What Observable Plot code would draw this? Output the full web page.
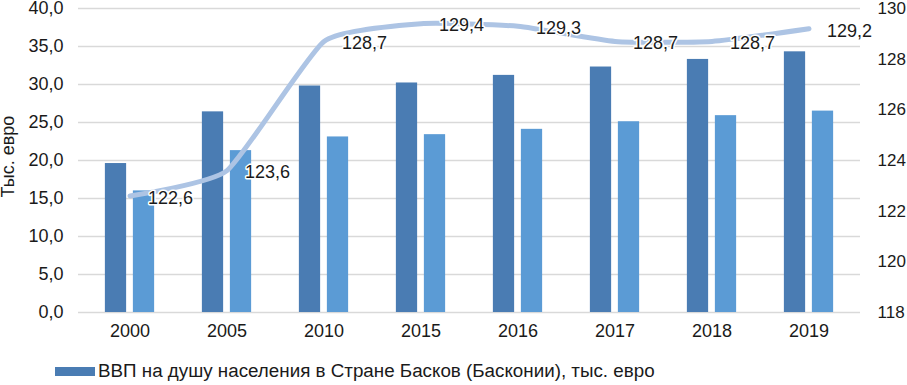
<!DOCTYPE html>
<html>
<head>
<meta charset="utf-8">
<script src="https://cdn.jsdelivr.net/npm/d3@7"></script>
<script src="https://cdn.jsdelivr.net/npm/@observablehq/plot@0.6"></script>
<style>
  html, body { margin: 0; padding: 0; background: #fff; }
  body { width: 907px; height: 385px; overflow: hidden; font-family: "Liberation Sans", Arial, sans-serif; }
  #chart svg { overflow: visible; }
  #legend { position: absolute; left: 55px; top: 360px; font-size: 18.8px; color: #1a1a1a; display: flex; align-items: center; white-space: nowrap; }
  #legend .sw { width: 40px; height: 9px; background: #4a7cb3; margin-right: 3px; }
</style>
</head>
<body>
<div id="chart"></div>
<div id="legend"><span class="sw"></span><span>ВВП на душу населения в Стране Басков (Басконии), тыс. евро</span></div>
<script>
const years = ["2000", "2005", "2010", "2015", "2016", "2017", "2018", "2019"];
const gdpBasque = [19.6, 26.4, 29.8, 30.2, 31.2, 32.3, 33.3, 34.3];
const gdpSpain = [16.0, 21.3, 23.1, 23.4, 24.1, 25.1, 25.9, 26.5];
const ratio = [122.6, 123.6, 128.7, 129.4, 129.3, 128.7, 128.7, 129.2];
const leftTicks = [0, 5, 10, 15, 20, 25, 30, 35, 40];
const rightTicks = [118, 120, 122, 124, 126, 128, 130];

// right axis (118..130) mapped onto left scale (0..40)
const rMin = 118, rMax = 130, lMax = 40;
const toLeft = v => (v - rMin) * lMax / (rMax - rMin);
const toRight = v => rMin + v * (rMax - rMin) / lMax;
const fmt1 = d => d.toFixed(1).replace(".", ",");

const bars1 = years.map((y, i) => ({year: y, value: gdpBasque[i]}));
const bars2 = years.map((y, i) => ({year: y, value: gdpSpain[i]}));
const line = years.map((y, i) => ({year: y, value: ratio[i], yv: toLeft(ratio[i])}));

const W = 907, H = 350, mL = 78, mR = 47, mT = 8, mB = 38;
const band = (W - mL - mR) / years.length;
const barW = 22, gap = 6;
const innerEdge = band / 2 - gap / 2;
const outerEdge = band / 2 - gap / 2 - barW;

const chart = Plot.plot({
  width: W,
  height: H,
  marginLeft: mL,
  marginRight: mR,
  marginTop: mT,
  marginBottom: mB,
  style: {fontFamily: "Liberation Sans, Arial, sans-serif", fontSize: "18px", color: "#1a1a1a", background: "#fff", overflow: "visible"},
  x: {domain: years, padding: 0},
  y: {domain: [0, 40]},
  marks: [
    Plot.gridY(leftTicks, {stroke: "#d9d9d9", strokeOpacity: 1, strokeWidth: 1.5}),
    Plot.barY(bars1, {x: "year", y: "value", fill: "#4a7cb3", insetLeft: outerEdge, insetRight: innerEdge + gap}),
    Plot.barY(bars2, {x: "year", y: "value", fill: "#5b9bd5", insetLeft: innerEdge + gap, insetRight: outerEdge}),
    Plot.line(line, {x: "year", y: "yv", stroke: "#adc4e4", strokeWidth: 5, curve: "cardinal", tension: 0.5}),
    Plot.text(line, {x: "year", y: "yv", text: d => fmt1(d.value), textAnchor: "start", dx: 18, dy: 2, fontSize: 18, fill: "#1a1a1a", stroke: "white", strokeWidth: 3, paintOrder: "stroke"}),
    Plot.axisY(leftTicks, {anchor: "left", tickSize: 0, tickPadding: 15, tickFormat: fmt1, fontSize: 18, label: null}),
    Plot.axisY(rightTicks.map(toLeft), {anchor: "right", tickSize: 0, tickPadding: 17, tickFormat: d => String(Math.round(toRight(d))), fontSize: 17, textAnchor: "start", label: null}),
    Plot.axisX({tickSize: 0, tickPadding: 12, fontSize: 18, label: null}),
    Plot.text(["Тыс. евро"], {frameAnchor: "left", textAnchor: "middle", rotate: -90, dx: -70, dy: -4, fontSize: 18, fill: "#1a1a1a"})
  ]
});
document.getElementById("chart").appendChild(chart);
</script>
</body>
</html>
